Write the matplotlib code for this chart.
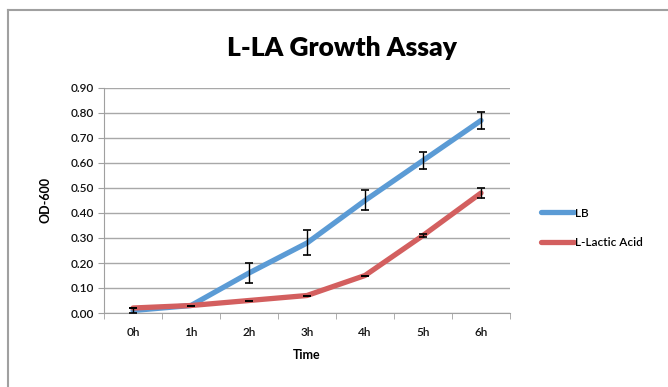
import numpy as np
import matplotlib.pyplot as plt
from matplotlib.lines import Line2D

plt.rcParams['font.family'] = ['Lato', 'DejaVu Sans']

# data
hours = ['0h', '1h', '2h', '3h', '4h', '5h', '6h']
lb = [0.01, 0.03, 0.16, 0.28, 0.45, 0.61, 0.77]
lb_err = [0.01, 0.0, 0.04, 0.05, 0.04, 0.035, 0.035]
lactic = [0.02, 0.03, 0.05, 0.07, 0.15, 0.31, 0.48]
lactic_err = [0.0, 0.0, 0.0, 0.0, 0.0, 0.005, 0.02]
yticks = np.arange(0, 0.91, 0.1)

fig = plt.figure(figsize=(6.68, 3.87), dpi=100)
ax = fig.add_axes([104/668, 1-313/387, 406/668, 225/387])

x = np.arange(len(hours))
blue = '#5b9bd5'
red = '#d35f5f'

ax.plot(x, lb, color=blue, lw=3.8, solid_capstyle='round', zorder=3)
ax.plot(x, lactic, color=red, lw=3.8, solid_capstyle='round', zorder=3)
ax.errorbar(x, lb, yerr=lb_err, fmt='none', ecolor='black', elinewidth=1, capsize=3, capthick=1.2, zorder=4)
ax.errorbar(x, lactic, yerr=lactic_err, fmt='none', ecolor='black', elinewidth=1, capsize=3, capthick=1.2, zorder=4)

ax.set_xlim(-0.5, 6.5)
ax.set_ylim(0, 0.9)
ax.set_yticks(yticks)
ax.set_yticklabels([f'{v:.2f}' for v in yticks], fontsize=8.5, color='#111111', fontweight='semibold')
ax.set_xticks(x)
ax.set_xticklabels(hours, fontsize=8.5, color='#111111', fontweight='semibold')
ax.set_xticks(np.arange(-0.5, 7, 1), minor=True)
ax.tick_params(axis='x', which='major', length=0, pad=10)
ax.tick_params(axis='x', which='minor', length=4, color='#a0a0a0', direction='out')
ax.tick_params(axis='y', length=4, color='#a0a0a0', direction='out', pad=3)
ax.yaxis.grid(True, color='#a8a8a8', lw=1)
ax.set_axisbelow(True)
for s in ['top', 'right']:
    ax.spines[s].set_visible(False)
for s in ['left', 'bottom']:
    ax.spines[s].set_color('#a0a0a0')

ax.set_xlabel('Time', fontsize=9, fontweight='bold', labelpad=8)
fig.text(45/668, 1-200/387, 'OD-600', rotation=90, ha='center', va='center',
         fontsize=9, fontweight='bold')
fig.text(342/668, 1-48/387, 'L-LA Growth Assay', ha='center', va='center',
         fontsize=19, fontweight='heavy')

handles = [Line2D([], [], color=blue, lw=3.8, solid_capstyle='round'),
           Line2D([], [], color=red, lw=3.8, solid_capstyle='round')]
fig.legend(handles, ['LB', 'L-Lactic Acid'], loc='center left',
           bbox_to_anchor=(530/668, 1-228/387), frameon=False,
           prop={'size': 8.5, 'weight': 'semibold'},
           handlelength=2.8, handletextpad=0.1, labelspacing=1.6)

# outer chart frame
fig.add_artist(Line2D([8/668, 8/668], [0, 1-10/387], color='#a0a0a0', lw=1.5, transform=fig.transFigure))
fig.add_artist(Line2D([8/668, 1], [1-10/387, 1-10/387], color='#a0a0a0', lw=1.5, transform=fig.transFigure))

fig.savefig('out.png', dpi=100)
